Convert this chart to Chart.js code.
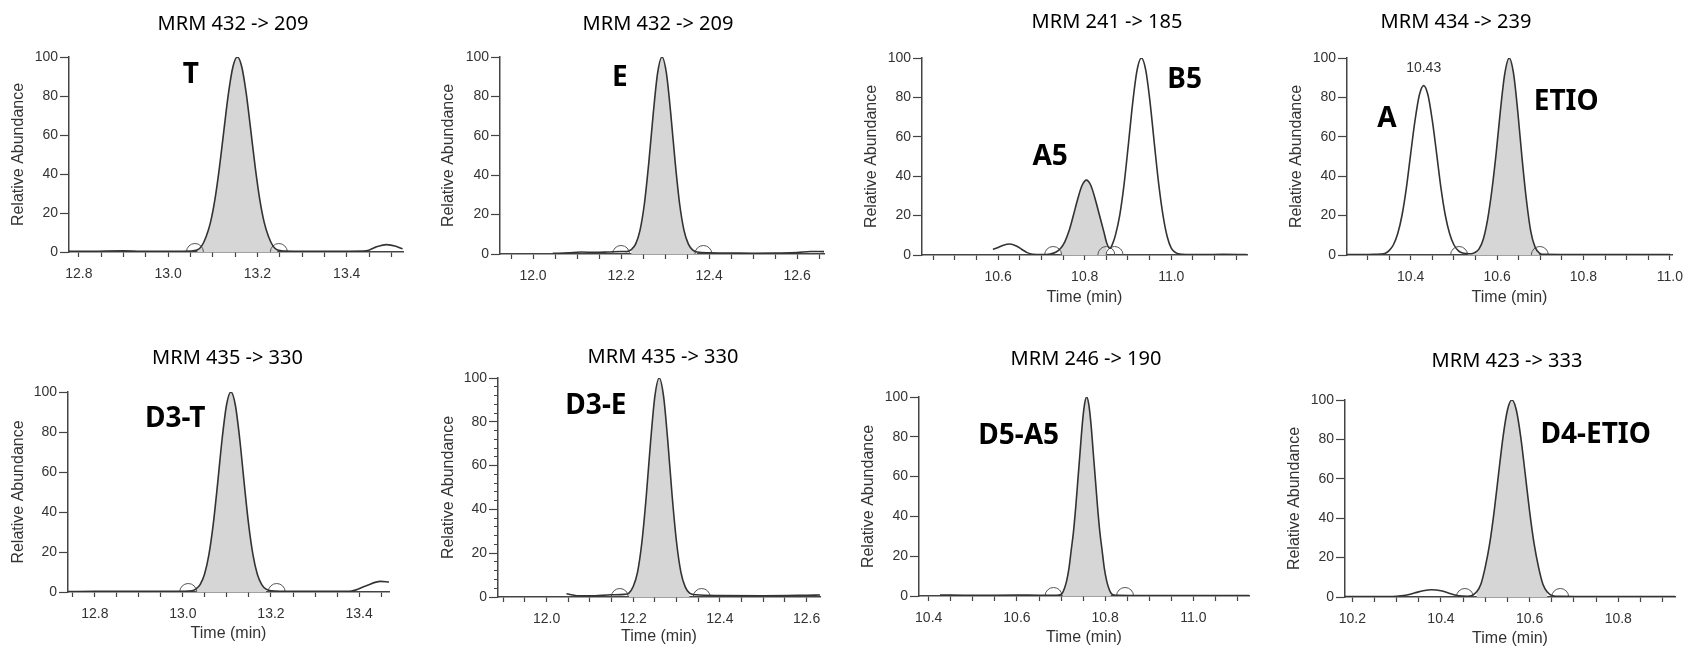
<!DOCTYPE html>
<html>
<head>
<meta charset="utf-8">
<script src="https://cdn.jsdelivr.net/npm/chart.js@4.4.1/dist/chart.umd.min.js"></script>
<style>
  html, body { margin: 0; padding: 0; background: #fff; overflow: hidden; }
  #wrap { position: relative; width: 1691px; height: 650px; }
  #wrap canvas { position: absolute; }
</style>
</head>
<body>
<div id="wrap"></div>
<script>
// retention time (min) / relative abundance (%) for each MRM trace
var tT = [12.778, 12.82, 12.86, 12.9, 12.94, 12.98, 13.02, 13.05, 13.065, 13.075, 13.085, 13.095, 13.105, 13.115, 13.125, 13.135, 13.145, 13.155, 13.165, 13.175, 13.185, 13.195, 13.205, 13.215, 13.225, 13.235, 13.245, 13.26, 13.3, 13.35, 13.4, 13.444, 13.465, 13.489, 13.51, 13.525];
var aT = [0.3, 0.3, 0.5, 0.6, 0.3, 0.3, 0.4, 0.5, 1.0, 3.0, 7.8, 15.3, 27.2, 43.5, 62.6, 81.2, 94.9, 100, 94.9, 81.2, 62.6, 43.5, 27.2, 15.3, 7.8, 3.0, 1.0, 0.5, 0.4, 0.3, 0.4, 0.6, 2.5, 3.8, 3.0, 1.6];

var tE = [12.045, 12.08, 12.11, 12.14, 12.17, 12.2, 12.213, 12.223, 12.233, 12.243, 12.253, 12.263, 12.273, 12.283, 12.293, 12.303, 12.313, 12.323, 12.333, 12.343, 12.353, 12.363, 12.373, 12.4, 12.45, 12.5, 12.55, 12.6, 12.63, 12.661];
var aE = [0.3, 0.6, 1.0, 0.8, 1.0, 1.3, 1.2, 2.2, 5.0, 12.0, 25.5, 46.4, 71.0, 91.8, 100, 91.8, 71.0, 46.4, 25.5, 12.0, 5.0, 2.0, 1.0, 0.6, 0.5, 0.4, 0.5, 0.7, 1.3, 1.2];

var tA5 = [10.588, 10.6, 10.612, 10.627, 10.642, 10.655, 10.667, 10.68, 10.7, 10.72, 10.734, 10.744, 10.754, 10.764, 10.774, 10.784, 10.794, 10.804, 10.814, 10.824, 10.834, 10.844, 10.851, 10.858, 10.865, 10.871, 10.881, 10.891, 10.901, 10.911, 10.921, 10.931, 10.941, 10.951, 10.961, 10.971, 10.981, 10.991, 11.0, 11.01, 11.025, 11.07, 11.12, 11.174];
var aA5 = [2.8, 3.8, 5.0, 5.6, 4.6, 2.8, 1.2, 0.4, 0.2, 0.5, 1.5, 3.3, 6.7, 12.4, 20.3, 28.6, 35.4, 38.0, 35.4, 28.6, 20.3, 12.0, 6.0, 3.4, 6.0, 10.1, 20.3, 36.0, 56.3, 77.5, 93.8, 100, 93.8, 77.5, 56.3, 36.0, 20.0, 9.0, 3.5, 1.2, 0.4, 0.2, 0.3, 0.2];

var tETIO = [10.2525, 10.29, 10.315, 10.33, 10.34, 10.35, 10.36, 10.37, 10.38, 10.39, 10.4, 10.41, 10.42, 10.43, 10.44, 10.45, 10.46, 10.47, 10.48, 10.49, 10.5, 10.51, 10.52, 10.53, 10.54, 10.548, 10.558, 10.568, 10.578, 10.588, 10.598, 10.608, 10.618, 10.628, 10.638, 10.648, 10.658, 10.668, 10.678, 10.688, 10.698, 10.71, 10.8, 10.9, 11.0];
var aETIO = [0.2, 0.2, 0.3, 0.5, 0.8, 2.2, 5.2, 10.9, 20.3, 34.1, 51.5, 68.3, 81.2, 86.0, 81.2, 68.3, 51.5, 34.1, 20.3, 10.9, 5.2, 2.2, 1.0, 0.7, 0.6, 1.2, 3.0, 8.0, 18.0, 33.0, 52.0, 74.0, 92.3, 100, 92.3, 72.6, 48.7, 27.8, 12.0, 4.0, 1.0, 0.3, 0.2, 0.2, 0.2];

var tD3T = [12.739, 12.8, 12.9, 13.0, 13.02, 13.029, 13.039, 13.049, 13.059, 13.069, 13.079, 13.089, 13.099, 13.109, 13.119, 13.129, 13.139, 13.149, 13.159, 13.169, 13.179, 13.189, 13.2, 13.25, 13.3, 13.35, 13.383, 13.415, 13.448, 13.468];
var aD3T = [0.2, 0.3, 0.3, 0.4, 0.6, 1.4, 3.7, 8.9, 18.7, 34.2, 54.7, 76.5, 93.5, 100, 93.5, 76.5, 54.7, 34.2, 18.7, 8.9, 3.7, 1.4, 0.6, 0.3, 0.3, 0.3, 0.5, 3.0, 5.3, 5.0];

var tD3E = [12.046, 12.07, 12.1, 12.15, 12.18, 12.19, 12.2, 12.21, 12.22, 12.23, 12.24, 12.25, 12.26, 12.27, 12.28, 12.29, 12.3, 12.31, 12.32, 12.33, 12.345, 12.4, 12.5, 12.6, 12.631];
var aD3E = [1.5, 0.6, 0.5, 1.0, 1.2, 1.8, 4.8, 11.4, 25.0, 45.8, 70.7, 91.7, 100, 91.7, 70.7, 45.8, 25.0, 11.4, 4.6, 1.8, 1.0, 0.7, 0.6, 0.8, 0.9];

var tD5A5 = [10.4255, 10.5, 10.6, 10.65, 10.69, 10.698, 10.703, 10.708, 10.713, 10.718, 10.723, 10.728, 10.733, 10.738, 10.743, 10.748, 10.753, 10.758, 10.763, 10.768, 10.773, 10.778, 10.783, 10.788, 10.793, 10.798, 10.803, 10.808, 10.813, 10.818, 10.83, 10.9, 11.0, 11.126];
var aD5A5 = [0.5, 0.3, 0.5, 0.4, 0.4, 0.6, 1.5, 4, 8, 14, 23, 32, 44, 58, 72, 86, 96, 100, 96, 86, 72, 58, 44, 32, 23, 14, 8, 4, 1.5, 0.6, 0.3, 0.2, 0.2, 0.2];

var tD4ETIO = [10.1835, 10.25, 10.3, 10.32, 10.34, 10.36, 10.379, 10.4, 10.42, 10.44, 10.46, 10.47, 10.48, 10.49, 10.5, 10.51, 10.52, 10.53, 10.54, 10.55, 10.56, 10.57, 10.58, 10.59, 10.6, 10.61, 10.62, 10.63, 10.64, 10.65, 10.67, 10.75, 10.85, 10.928];
var aD4ETIO = [0.2, 0.2, 0.4, 0.9, 2.0, 3.2, 3.7, 3.2, 1.8, 0.6, 0.4, 0.8, 2.5, 6.5, 15.3, 27.2, 43.5, 62.6, 81.2, 94.9, 100, 94.9, 81.2, 62.6, 43.5, 27.2, 15.3, 6.5, 2.5, 0.8, 0.3, 0.2, 0.2, 0.2];

var times = [tT, tE, tA5, tETIO, tD3T, tD3E, tD5A5, tD4ETIO];
var abund = [aT, aE, aA5, aETIO, aD3T, aD3E, aD5A5, aD4ETIO];

var titles = ['MRM 432 -> 209', 'MRM 432 -> 209', 'MRM 241 -> 185', 'MRM 434 -> 239',
              'MRM 435 -> 330', 'MRM 435 -> 330', 'MRM 246 -> 190', 'MRM 423 -> 333'];
var names = [['T'], ['E'], ['A5', 'B5'], ['A', 'ETIO'], ['D3-T'], ['D3-E'], ['D5-A5'], ['D4-ETIO']];

// time axis range of each trace
var xMin = [12.778, 11.925, 10.424, 10.2525, 12.739, 11.888, 10.378, 10.1835];
var xMax = [13.526, 12.661, 11.175, 11.005, 13.468, 12.631, 11.126, 10.928];

// integrated (shaded) windows and integration boundary marks
var shaded = [[13.065, 13.245], [12.223, 12.373], [10.744, 10.851], [10.53, 10.698],
              [13.029, 13.189], [12.19, 12.33], [10.703, 10.813], [10.48, 10.64]];
var bounds = [[13.06, 13.248], [12.2, 12.387], [10.727, 10.85, 10.869], [10.512, 10.699],
              [13.012, 13.213], [12.169, 12.358], [10.683, 10.845], [10.454, 10.669]];

// apex time printed above the androsterone peak
var apexTimes = [null, null, null, 10.43, null, null, null, null];

// ---- page layout (pixels) ----
var frames = [
  { L: 0,    T: 0,   axisX: 69,   axisEnd: 403,  y100: 57,  y0: 252, titleX: 233,  titleY: 24,   yTitleX: 19,   xTitleY: null },
  { L: 420,  T: 0,   axisX: 500,  axisEnd: 824,  y100: 57,  y0: 254, titleX: 658,  titleY: 24.5, yTitleX: 449,  xTitleY: null },
  { L: 840,  T: 0,   axisX: 922,  axisEnd: 1247, y100: 58,  y0: 255, titleX: 1107, titleY: 22,   yTitleX: 872,  xTitleY: 298 },
  { L: 1230, T: 0,   axisX: 1347, axisEnd: 1672, y100: 58,  y0: 255, titleX: 1456, titleY: 22.5, yTitleX: 1297, xTitleY: 298 },
  { L: 0,    T: 325, axisX: 68,   axisEnd: 389,  y100: 392, y0: 592, titleX: 227.5, titleY: 358, yTitleX: 19,   xTitleY: 634 },
  { L: 420,  T: 325, axisX: 498,  axisEnd: 820,  y100: 378, y0: 597, titleX: 663,  titleY: 357.5, yTitleX: 449, xTitleY: 637, minorY: true },
  { L: 840,  T: 325, axisX: 919,  axisEnd: 1249, y100: 397, y0: 596, titleX: 1086, titleY: 359.5, yTitleX: 869, xTitleY: 638 },
  { L: 1230, T: 325, axisX: 1345, axisEnd: 1675, y100: 400, y0: 597, titleX: 1507, titleY: 361,  yTitleX: 1295, xTitleY: 639 }
];
// where the compound names sit, in axis units (time, %)
var nameAnchors = [
  [[13.051, 90.8]], [[12.197, 89.5]], [[10.72, 49.9], [11.031, 88.8]], [[10.345, 69], [10.76, 77.5]],
  [[12.9825, 86.7]], [[12.114, 87.3]], [[10.604, 80.5]], [[10.749, 82.2]]
];

var AXIS = '#444';
var TEXT = '#333';
var PANEL_H = 325;
var PAD_R = 20;

function tickLabel(v) {
  var r = Math.round(v * 5);
  return Math.abs(v * 5 - r) < 1e-6 ? (r / 5).toFixed(1) : '';
}

function makePanel(i) {
  var f = frames[i];
  var pts = times[i].map(function (t, k) { return { x: t, y: abund[i][k] }; });
  var win = shaded[i];
  var area = pts.filter(function (p) { return p.x >= win[0] - 1e-9 && p.x <= win[1] + 1e-9; });
  var marks = bounds[i].map(function (t) { return { x: t, y: 0 }; });

  // extra right-hand gap so the title centre lands where it should
  var gap = Math.max(0, 2 * f.titleX - f.L - f.axisEnd);
  var W = Math.round(f.axisEnd + gap + PAD_R - f.L);

  var cv = document.createElement('canvas');
  cv.width = W; cv.height = PANEL_H;
  cv.style.left = f.L + 'px'; cv.style.top = f.T + 'px';
  cv.style.width = W + 'px'; cv.style.height = PANEL_H + 'px';
  document.getElementById('wrap').appendChild(cv);

  var labelPlugin = {
    id: 'peakNames',
    afterDatasetsDraw: function (chart) {
      var ctx = chart.ctx, xs = chart.scales.x, ys = chart.scales.y;
      ctx.save();
      ctx.textAlign = 'center';
      ctx.textBaseline = 'middle';
      ctx.fillStyle = '#000';
      ctx.font = 'bold 28px "Noto Sans"';
      names[i].forEach(function (n, k) {
        var a = nameAnchors[i][k];
        ctx.fillText(n, xs.getPixelForValue(a[0]), ys.getPixelForValue(a[1]));
      });
      if (apexTimes[i] !== null) {
        var top = 0;
        pts.forEach(function (p) { if (Math.abs(p.x - apexTimes[i]) < 1e-6) top = p.y; });
        ctx.fillStyle = TEXT;
        ctx.font = '14px "Liberation Sans"';
        ctx.fillText(apexTimes[i].toFixed(2), xs.getPixelForValue(apexTimes[i]), ys.getPixelForValue(top) - 17);
      }
      ctx.restore();
    }
  };

  var scales = {
    x: {
      type: 'linear', position: 'bottom', min: xMin[i], max: xMax[i],
      afterFit: function (s) { s.height = f.T + PANEL_H - f.y0; },
      border: { display: true, color: AXIS, width: 1.5 },
      grid: { drawOnChartArea: false, tickLength: 5, color: AXIS, tickWidth: 1.2 },
      ticks: {
        stepSize: 0.05, includeBounds: false, autoSkip: false, maxRotation: 0,
        padding: 9, color: TEXT, font: { family: 'Liberation Sans', size: 14 },
        callback: tickLabel
      },
      title: {
        display: f.xTitleY !== null, text: 'Time (min)', color: TEXT,
        font: { family: 'Liberation Sans', size: 16 },
        padding: { top: 0, bottom: f.xTitleY === null ? 0 : f.T + PANEL_H - f.xTitleY - 9.6 }
      }
    },
    y: {
      type: 'linear', position: 'left', min: 0, max: 100, weight: 0,
      afterFit: function (s) { s.width = f.axisX - f.L; },
      border: { display: true, color: AXIS, width: 1.5 },
      grid: { drawOnChartArea: false, tickLength: 9, color: AXIS, tickWidth: 1.2 },
      ticks: {
        stepSize: 20, autoSkip: false, padding: 2, color: TEXT,
        font: { family: 'Liberation Sans', size: 14 }
      },
      title: {
        display: true, text: 'Relative Abundance', color: TEXT,
        font: { family: 'Liberation Sans', size: 16 },
        padding: { top: f.yTitleX - f.L - 9.6, bottom: 0 }
      }
    },
    gap: {
      type: 'linear', position: 'right', min: 0, max: 1, display: true,
      afterFit: function (s) { s.width = gap; },
      grid: { display: false }, border: { display: false }, ticks: { display: false }
    }
  };
  if (f.minorY) {
    scales.yMinor = {
      type: 'linear', position: 'left', min: 0, max: 100, weight: -1,
      afterFit: function (s) { s.width = 0; },
      border: { display: false },
      grid: { drawOnChartArea: false, tickLength: 4, color: AXIS, tickWidth: 1 },
      ticks: { stepSize: 4, autoSkip: false, padding: 0, callback: function () { return ''; } }
    };
  }

  new Chart(cv, {
    type: 'line',
    data: {
      datasets: [
        {
          data: pts, xAxisID: 'x', yAxisID: 'y', order: 0,
          borderColor: '#333', borderWidth: 1.6, fill: false,
          pointRadius: 0, cubicInterpolationMode: 'monotone'
        },
        {
          data: marks, xAxisID: 'x', yAxisID: 'y', order: 1, showLine: false,
          pointRadius: 8.5, pointStyle: 'circle', pointBorderWidth: 1,
          pointBorderColor: '#555', pointBackgroundColor: 'rgba(0,0,0,0)',
          clip: { left: 12, top: 12, right: 12, bottom: 0 }
        },
        {
          data: area, xAxisID: 'x', yAxisID: 'y', order: 2,
          borderWidth: 0, backgroundColor: '#d6d6d6', fill: 'origin',
          pointRadius: 0, cubicInterpolationMode: 'monotone'
        }
      ]
    },
    options: {
      responsive: false, animation: false, devicePixelRatio: 1,
      layout: { padding: { left: 0, top: 0, bottom: 0, right: PAD_R } },
      plugins: {
        legend: { display: false },
        tooltip: { enabled: false },
        title: {
          display: true, text: titles[i], color: '#000',
          font: { family: 'Noto Sans', size: 20, weight: 'normal' },
          padding: { top: f.titleY - f.T - 12, bottom: f.y100 - f.titleY - 12 }
        }
      },
      scales: scales
    },
    plugins: [labelPlugin]
  });
}

for (var i = 0; i < frames.length; i++) makePanel(i);
</script>
</body>
</html>
